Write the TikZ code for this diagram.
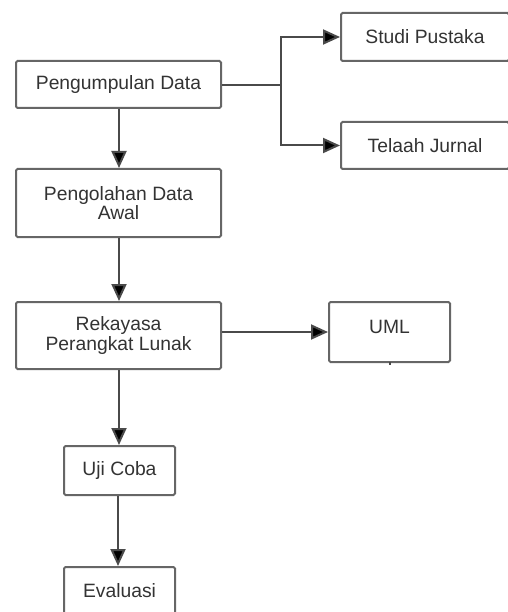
\documentclass[tikz,border=0pt]{standalone}
\usepackage{fontspec}
\setmainfont{Liberation Sans}
\usetikzlibrary{arrows.meta}
\definecolor{boxline}{HTML}{666666}
\definecolor{wirecol}{HTML}{4A4A4A}
\definecolor{ink}{HTML}{333333}
\begin{document}
\begin{tikzpicture}[x=1pt,y=-1pt,
  stepbox/.style={draw=boxline,line width=2pt,rounded corners=1.5pt,fill=white,
    text=ink,font=\fontsize{19.3}{19.5}\selectfont,align=center,inner sep=0pt,
    minimum width=#1},
  flow/.style={draw=wirecol,line width=2pt,
    -{Triangle[length=17pt,width=15pt,fill=black]}},
  link/.style={draw=wirecol,line width=2pt}]
\useasboundingbox (0,0) rectangle (507,612);

% process boxes
\node[stepbox=205pt,minimum height=47pt] (pd)  at (118.5,84.5) {Pengumpulan Data};
\node[stepbox=168pt,minimum height=48pt] (sp)  at (425,37)    {Studi Pustaka};
\node[stepbox=168pt,minimum height=47pt] (tj)  at (425,145.5) {Telaah Jurnal};
\node[stepbox=205pt,minimum height=68pt] (po)  at (118.5,203) {Pengolahan Data\\Awal};
\node[stepbox=205pt,minimum height=67pt] (rpl) at (118.5,335.5) {Rekayasa\\Perangkat Lunak};
\node[stepbox=121pt,minimum height=60pt,text depth=10pt] (uml) at (389.5,332) {UML};
\node[stepbox=111pt,minimum height=49pt] (uc)  at (119.5,470.5) {Uji Coba};
\node[stepbox=111pt,minimum height=48pt] (ev)  at (119.5,591)  {Evaluasi};

% small tick under the UML box
\fill[wirecol] (388.5,362) rectangle (390.5,364.5);

% branch point towards the literature boxes
\coordinate (br) at (281,85);

% connectors
\draw[flow] (pd.south -| 119,0) -- (po.north -| 119,0);
\draw[link] (pd.east |- br) -- (br);
\draw[flow] (br) |- (sp.west);
\draw[flow] (br) |- (tj.west);
\draw[flow] (po.south -| 119,0) -- (rpl.north -| 119,0);
\draw[flow] (uml.west -| rpl.east) -- (uml.west);
\draw[flow] (rpl.south -| 119,0) -- (uc.north -| 119,0);
\draw[flow] (uc.south -| 118,0) -- (ev.north -| 118,0);
\end{tikzpicture}
\end{document}
